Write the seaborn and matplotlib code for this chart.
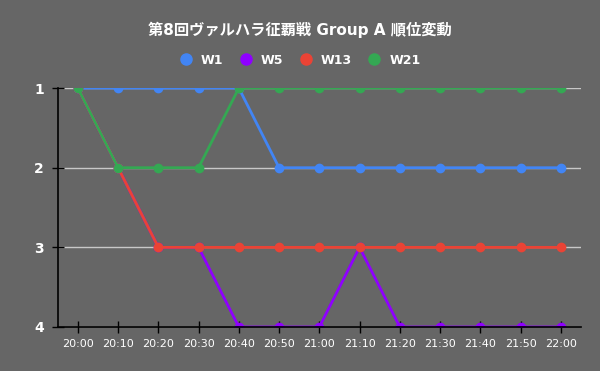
import matplotlib
matplotlib.use("Agg")
import matplotlib.pyplot as plt
from matplotlib.lines import Line2D
import seaborn as sns
import pandas as pd

# rank per 10 minutes
times = ["20:00", "20:10", "20:20", "20:30", "20:40", "20:50", "21:00",
         "21:10", "21:20", "21:30", "21:40", "21:50", "22:00"]
teams = ["W1", "W5", "W13", "W21"]
w1 = [1, 1, 1, 1, 1, 2, 2, 2, 2, 2, 2, 2, 2]
w5 = [1, 2, 3, 3, 4, 4, 4, 3, 4, 4, 4, 4, 4]
w13 = [1, 2, 3, 3, 3, 3, 3, 3, 3, 3, 3, 3, 3]
w21 = [1, 2, 2, 2, 1, 1, 1, 1, 1, 1, 1, 1, 1]
colors = ["#4285f4", "#8f00ff", "#ea4335", "#34a853"]
title = "第8回ヴァルハラ征覇戦 Group A 順位変動"

rows = []
for team, ranks in zip(teams, [w1, w5, w13, w21]):
    for t, r in zip(times, ranks):
        rows.append({"time": t, "rank": r, "team": team})
df = pd.DataFrame(rows)

sns.set_theme(style="white")
plt.rcParams["font.family"] = ["DejaVu Sans", "Noto Sans CJK JP"]
bg = "#666666"

fig = plt.figure(figsize=(6, 3.71), dpi=100, facecolor=bg)
ax = fig.add_axes([0.0962, 0.1186, 0.872, 0.644], facecolor=bg)

sns.pointplot(data=df, x="time", y="rank", hue="team", order=times,
              hue_order=teams, palette=colors, markers="o", markersize=5.5,
              linewidth=2, errorbar=None, dodge=False, ax=ax)
if ax.get_legend() is not None:
    ax.get_legend().remove()

ax.set_xlim(-0.5, len(times) - 0.5)
ax.set_ylim(4, 1)
ax.set_yticks([1, 2, 3, 4])
ax.set_xlabel("")
ax.set_ylabel("")

ax.yaxis.grid(True, color="#c8c8c8", linewidth=1)
ax.set_axisbelow(True)
for s in ["top", "right"]:
    ax.spines[s].set_visible(False)
for s in ["left", "bottom"]:
    ax.spines[s].set_color("black")
    ax.spines[s].set_linewidth(1.2)

ax.tick_params(axis="x", bottom=True, direction="inout", length=9, width=1,
               color="black", labelcolor="white", labelsize=8, pad=4)
ax.tick_params(axis="y", left=True, direction="inout", length=8, width=1,
               color="black", labelcolor="white", labelsize=10, pad=6)
for lab in ax.get_yticklabels():
    lab.set_fontweight("bold")

fig.text(0.5, 1 - 30 / 371, title, ha="center", va="center", color="white",
         fontsize=11, fontweight="bold",
         family=["DejaVu Sans", "Noto Sans CJK JP"])

handles = [Line2D([], [], linestyle="none", marker="o", markersize=8,
                  color=c) for c in colors]
leg = fig.legend(handles, teams, loc="center", ncol=4, frameon=False,
                 bbox_to_anchor=(0.5, 1 - 60 / 371), handlelength=1,
                 handletextpad=0.7, columnspacing=1.3,
                 prop={"family": "DejaVu Sans", "weight": "bold", "size": 9})
for txt in leg.get_texts():
    txt.set_color("white")

fig.savefig("out.png", dpi=100, facecolor=bg)
